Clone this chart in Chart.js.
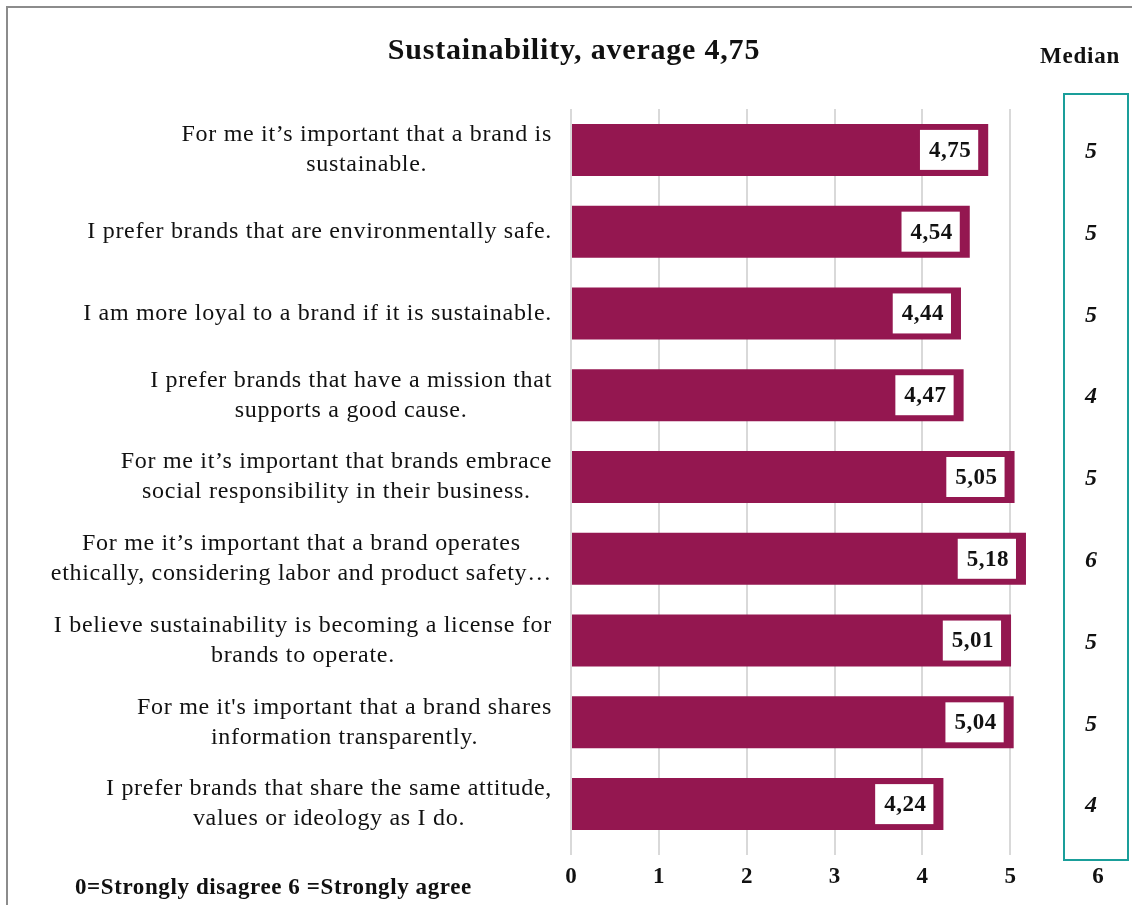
<!DOCTYPE html>
<html>
<head>
<meta charset="utf-8">
<script src="https://cdn.jsdelivr.net/npm/chart.js"></script>
<style>
  body { margin: 0; background: #fff; }
  #wrap { width: 1132px; height: 905px; }
</style>
</head>
<body>
<div id="wrap"><canvas id="myChart" width="1132" height="905"></canvas></div>
<script>
const statements = [
    ['For me it\u2019s important that a brand is', 'sustainable.'],
    ['I prefer brands that are environmentally safe.'],
    ['I am more loyal to a brand if it is sustainable.'],
    ['I prefer brands that have a mission that', 'supports a good cause.'],
    ['For me it\u2019s important that brands embrace', 'social responsibility in their business.'],
    ['For me it\u2019s important that a brand operates', 'ethically, considering labor and product safety\u2026'],
    ['I believe sustainability is becoming a license for', 'brands to operate.'],
    ['For me it\'s important that a brand shares', 'information transparently.'],
    ['I prefer brands that share the same attitude,', 'values or ideology as I do.']
];
const averages = [4.75, 4.54, 4.44, 4.47, 5.05, 5.18, 5.01, 5.04, 4.24];
const medians = [5, 5, 5, 4, 5, 6, 5, 5, 4];
const xTicks = [0, 1, 2, 3, 4, 5, 6];

const serif = '"Liberation Serif", "DejaVu Serif", serif';
const fmt = v => v.toFixed(2).replace('.', ',');

// labels: lines centred, block right aligned next to the bars
const labelPlugin = {
    id: 'labels',
    afterDraw(chart) {
        const ctx = chart.ctx;
        const y = chart.scales.y;
        const right = 552;
        const lh = 30;
        ctx.save();
        ctx.font = '24px ' + serif;
        ctx.letterSpacing = '0.7px';
        ctx.fillStyle = '#111';
        ctx.textAlign = 'center';
        ctx.textBaseline = 'middle';
        statements.forEach((lines, i) => {
            const w = Math.max(...lines.map(l => ctx.measureText(l).width));
            const cx = right - w / 2;
            const cy = y.getPixelForValue(i);
            lines.forEach((l, j) => {
                ctx.fillText(l, cx, cy + (j - (lines.length - 1) / 2) * lh);
            });
        });
        ctx.restore();
    }
};

const valuePlugin = {
    id: 'values',
    afterDatasetsDraw(chart) {
        const ctx = chart.ctx;
        const meta = chart.getDatasetMeta(0);
        ctx.save();
        ctx.font = 'bold 23px ' + serif;
        ctx.letterSpacing = '0.5px';
        ctx.textAlign = 'center';
        ctx.textBaseline = 'middle';
        meta.data.forEach((bar, i) => {
            const txt = fmt(averages[i]);
            const w = ctx.measureText(txt).width + 16;
            const h = 40;
            const x1 = bar.x - 10 - w;
            ctx.fillStyle = '#fff';
            ctx.fillRect(x1, bar.y - h / 2, w, h);
            ctx.fillStyle = '#111';
            ctx.fillText(txt, x1 + w / 2 + 1, bar.y + 1);
        });
        ctx.restore();
    }
};

const extrasPlugin = {
    id: 'extras',
    afterDraw(chart) {
        const ctx = chart.ctx;
        const y = chart.scales.y;
        ctx.save();
        // outer frame
        ctx.strokeStyle = '#8c8c8c';
        ctx.lineWidth = 2;
        ctx.beginPath();
        ctx.moveTo(7, 905);
        ctx.lineTo(7, 7);
        ctx.lineTo(1132, 7);
        ctx.stroke();

        // title
        ctx.fillStyle = '#111';
        ctx.textAlign = 'center';
        ctx.textBaseline = 'middle';
        ctx.font = 'bold 30px ' + serif;
        ctx.letterSpacing = '0.8px';
        ctx.fillText('Sustainability, average 4,75', 574, 51);

        // median column
        ctx.font = 'bold 23px ' + serif;
        ctx.letterSpacing = '0.8px';
        ctx.fillText('Median', 1080, 57);
        ctx.strokeStyle = '#1a9e9a';
        ctx.strokeRect(1064, 94, 64, 766);
        ctx.font = 'italic bold 24px ' + serif;
        ctx.letterSpacing = '0px';
        medians.forEach((m, i) => {
            ctx.fillText(String(m), 1091, y.getPixelForValue(i) + 2);
        });

        // scale note
        ctx.textAlign = 'left';
        ctx.font = 'bold 23px ' + serif;
        ctx.letterSpacing = '0.6px';
        ctx.fillText('0=Strongly disagree 6 =Strongly agree', 75, 888);
        ctx.restore();
    }
};

const data = {
    labels: statements,
    datasets: [{
        label: 'Average',
        data: averages,
        backgroundColor: 'rgb(148, 23, 80)',
        borderWidth: 0,
        barPercentage: 0.636,
        categoryPercentage: 1
    }]
};

const config = {
    type: 'bar',
    data: data,
    options: {
        indexAxis: 'y',
        responsive: false,
        animation: false,
        layout: { padding: { top: 109, right: 34, left: 0, bottom: 0 } },
        plugins: {
            legend: { display: false },
            tooltip: { enabled: false }
        },
        scales: {
            x: {
                min: 0,
                max: 6,
                afterBuildTicks: scale => { scale.ticks = xTicks.map(v => ({ value: v })); },
                afterFit: scale => { scale.height = 60; },
                border: { display: false },
                grid: {
                    color: c => c.tick && c.tick.value === 6 ? 'rgba(0,0,0,0)' : '#d9d9d9',
                    lineWidth: 2,
                    tickLength: 10
                },
                ticks: {
                    color: '#111',
                    padding: 8,
                    font: { family: serif, size: 23, weight: 'bold' }
                }
            },
            y: {
                afterFit: scale => { scale.width = 571; },
                border: { display: false },
                grid: { display: false },
                ticks: { display: false }
            }
        }
    },
    plugins: [labelPlugin, valuePlugin, extrasPlugin]
};

const myChart = new Chart(document.getElementById('myChart'), config);
</script>
</body>
</html>
